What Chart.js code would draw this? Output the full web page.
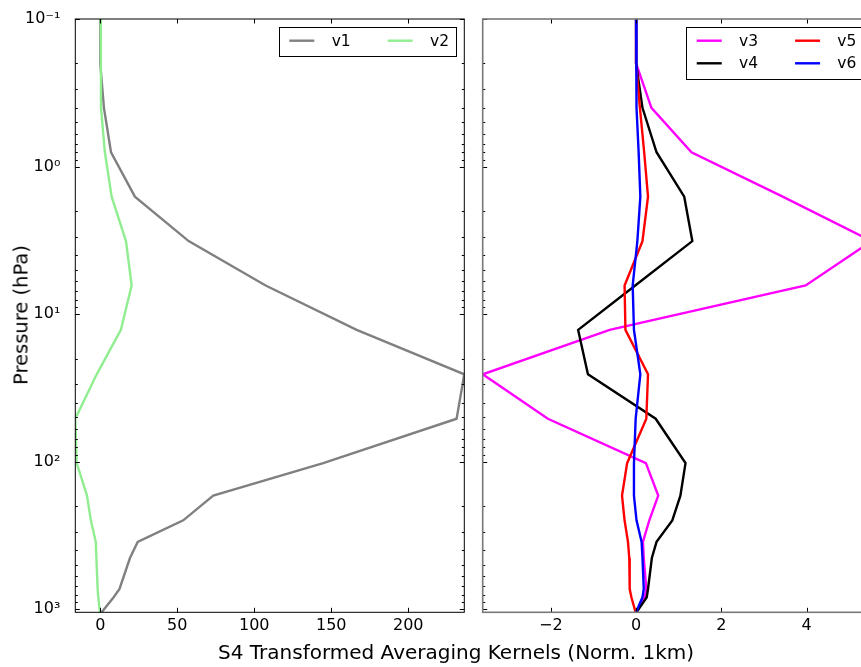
<!DOCTYPE html>
<html>
<head>
    <title>S4 Transformed Averaging Kernels</title>
    <style>
        body { margin: 0; width: 861px; height: 667px; overflow: hidden; background: #fff; position: relative; font-family: 'DejaVu Sans', sans-serif; }
        canvas { position: absolute; top: 0; }
        .ytitle { position: absolute; left: 21px; top: 315px; transform: translate(-50%, -50%) rotate(-90deg); font-size: 19.5px; white-space: nowrap; color: #000; }
        .xtitle { position: absolute; left: 456px; top: 652px; transform: translate(-50%, -50%); font-size: 20px; white-space: nowrap; color: #000; }
    </style>
</head>
<body>
    <canvas id="left" width="470" height="667" style="left:0"></canvas>
    <canvas id="right" width="430" height="667" style="left:470px"></canvas>
    <div class="ytitle">Pressure (hPa)</div>
    <div class="xtitle">S4 Transformed Averaging Kernels (Norm. 1km)</div>

    <script src="https://cdn.jsdelivr.net/npm/chart.js"></script>
    <script>
        // pressure levels (hPa)
        var PRESSURE = [0.1, 0.2, 0.4, 0.8, 1.6, 3.2, 6.4, 12.8, 25.6, 51.2, 102.4, 170, 250, 350, 450, 730, 830, 1050];

        // left panel
        var V1 = [0, 0, 2.4, 7, 22.5, 57.4, 107.4, 166.5, 236.4, 231.4, 144.8, 73.4, 53.9, 24.3, 19.3, 12.5, 8.7, 0.9];
        var V2 = [0.3, 0.4, 0.5, 3.0, 7.4, 16.7, 20.4, 13.4, -2.3, -16.2, -15.3, -8.6, -6.1, -2.9, -2.5, -1.7, -1.3, -0.2];

        // right panel
        var V3 = [0, 0, 0.36, 1.30, 3.44, 5.53, 3.98, -0.62, -3.6, -2.07, 0.23, 0.52, 0.31, 0.16, 0.18, 0.24, 0.20, 0.0];
        var V4 = [0, 0, 0.15, 0.48, 1.13, 1.32, -0.02, -1.36, -1.13, 0.46, 1.16, 1.04, 0.85, 0.48, 0.37, 0.28, 0.25, 0.01];
        var V5 = [0, 0, 0.09, 0.19, 0.28, 0.15, -0.27, -0.25, 0.28, 0.24, -0.21, -0.33, -0.27, -0.19, -0.16, -0.15, -0.11, -0.01];
        var V6 = [0, 0, 0.02, 0.06, 0.10, 0.03, -0.08, -0.05, 0.10, -0.01, -0.05, -0.05, 0.01, 0.13, 0.15, 0.18, 0.15, 0.0];

        var Y_TICKS = [0.1, 1, 10, 100, 1000];
        var Y_TICK_LABELS = ['10\u207B\u00B9', '10\u2070', '10\u00B9', '10\u00B2', '10\u00B3'];
        var X1_TICKS = [0, 50, 100, 150, 200];
        var X2_TICKS = [-2, 0, 2, 4];

        Chart.defaults.font.family = "'DejaVu Sans', sans-serif";
        Chart.defaults.color = '#000';

        function series(vals) {
            return vals.map(function (v, i) { return { x: v, y: PRESSURE[i] }; });
        }

        // spines + inward ticks like matplotlib classic
        var frameTicks = {
            id: 'frameTicks',
            afterDatasetsDraw: function (chart, args, opts) {
                var ctx = chart.ctx, a = chart.chartArea, x = chart.scales.x, y = chart.scales.y;
                ctx.save();
                ctx.strokeStyle = '#000';
                ctx.lineWidth = 1;
                ctx.beginPath();
                opts.xTicks.forEach(function (v) {
                    var px = Math.round(x.getPixelForValue(v)) + 0.5;
                    ctx.moveTo(px, a.bottom); ctx.lineTo(px, a.bottom - 4.5);
                    ctx.moveTo(px, a.top); ctx.lineTo(px, a.top + 4.5);
                });
                for (var d = -1; d <= 3; d++) {
                    for (var m = 1; m <= 9; m++) {
                        var v = m * Math.pow(10, d);
                        if (v < y.min || v > y.max) continue;
                        var py = Math.round(y.getPixelForValue(v)) + 0.5;
                        var len = m === 1 ? 4.5 : 2.5;
                        ctx.moveTo(a.left, py); ctx.lineTo(a.left + len, py);
                        ctx.moveTo(a.right, py); ctx.lineTo(a.right - len, py);
                    }
                }
                ctx.stroke();
                ctx.strokeStyle = opts.color;
                ctx.lineWidth = opts.width;
                ctx.strokeRect(a.left, a.top, a.right - a.left, a.bottom - a.top);
                ctx.restore();
            }
        };

        // boxed legend in the upper right, columns filled top to bottom
        var boxLegend = {
            id: 'boxLegend',
            afterDraw: function (chart, args, opts) {
                var ctx = chart.ctx, a = chart.chartArea, ds = chart.data.datasets;
                var ncol = opts.ncol, nrow = Math.ceil(ds.length / ncol);
                ctx.save();
                ctx.font = '15.5px "DejaVu Sans"';
                var colW = [];
                for (var c = 0; c < ncol; c++) {
                    var w = 0;
                    for (var r = 0; r < nrow; r++) {
                        var k = c * nrow + r;
                        if (k < ds.length) w = Math.max(w, ctx.measureText(ds[k].label).width);
                    }
                    colW.push(w);
                }
                var padL = 10.7, lineLen = 25, gap = 17.3, colGap = 37, padR = 7;
                var boxW = padL + padR + (ncol - 1) * colGap;
                colW.forEach(function (w) { boxW += lineLen + gap + w; });
                var rowH = 22.6, padT = 13.4, padB = 16;
                var boxH = padT + (nrow - 1) * rowH + padB;
                var bx = a.right - 8.3 - boxW, by = a.top + 8.3;
                ctx.fillStyle = '#fff';
                ctx.fillRect(bx, by, boxW, boxH);
                ctx.strokeStyle = '#000';
                ctx.lineWidth = 1;
                ctx.strokeRect(Math.round(bx) + 0.5, Math.round(by) + 0.5, Math.round(boxW), Math.round(boxH));
                var cx = bx + padL;
                for (c = 0; c < ncol; c++) {
                    for (r = 0; r < nrow; r++) {
                        k = c * nrow + r;
                        if (k >= ds.length) continue;
                        var cy = by + padT + r * rowH;
                        ctx.strokeStyle = ds[k].borderColor;
                        ctx.lineWidth = ds[k].borderWidth;
                        ctx.beginPath();
                        ctx.moveTo(cx, cy); ctx.lineTo(cx + lineLen, cy);
                        ctx.stroke();
                        ctx.fillStyle = '#000';
                        ctx.textBaseline = 'middle';
                        ctx.fillText(ds[k].label, cx + lineLen + gap, cy + 1);
                    }
                    cx += lineLen + gap + colW[c] + colGap;
                }
                ctx.restore();
            }
        };

        function makeChart(id, datasets, xMin, xMax, xTicks, yWidth, padRight, showY, frameColor, ncol) {
            return new Chart(document.getElementById(id).getContext('2d'), {
                type: 'scatter',
                data: { datasets: datasets },
                options: {
                    responsive: false,
                    animation: false,
                    layout: { padding: { top: 19, right: padRight, left: 0, bottom: 0 } },
                    elements: { point: { radius: 0 }, line: { tension: 0 } },
                    scales: {
                        x: {
                            type: 'linear',
                            min: xMin, max: xMax,
                            grid: { display: false },
                            border: { display: false },
                            afterBuildTicks: function (s) { s.ticks = xTicks.map(function (v) { return { value: v }; }); },
                            afterFit: function (s) { s.height = 54.7; },
                            ticks: {
                                padding: -4,
                                font: { size: 16 },
                                callback: function (v) { return String(v).replace('-', '\u2212'); }
                            }
                        },
                        y: {
                            type: 'logarithmic',
                            reverse: true,
                            min: PRESSURE[0], max: PRESSURE[PRESSURE.length - 1],
                            grid: { display: false },
                            border: { display: false },
                            afterBuildTicks: function (s) { s.ticks = Y_TICKS.map(function (v) { return { value: v }; }); },
                            afterFit: function (s) { s.width = yWidth; },
                            ticks: {
                                display: showY,
                                padding: 7,
                                font: { size: 16 },
                                callback: function (v) { return Y_TICK_LABELS[Y_TICKS.indexOf(v)]; }
                            }
                        }
                    },
                    plugins: {
                        legend: { display: false },
                        tooltip: { enabled: false },
                        frameTicks: { xTicks: xTicks, color: frameColor, width: frameColor === '#000' ? 1 : 1.6 },
                        boxLegend: { ncol: ncol }
                    }
                },
                plugins: [frameTicks, boxLegend]
            });
        }

        function line(label, vals, color, order) {
            return { label: label, data: series(vals), showLine: true, borderColor: color, backgroundColor: color, borderWidth: 2.4, order: order };
        }

        makeChart('left', [
            line('v1', V1, '#808080', 2),
            line('v2', V2, '#90ee90', 1)
        ], -16.2, 236.4, X1_TICKS, 75.3, 5.7, true, '#000', 2);

        makeChart('right', [
            line('v3', V3, '#ff00ff', 4),
            line('v4', V4, '#000000', 3),
            line('v5', V5, '#ff0000', 2),
            line('v6', V6, '#0000ff', 1)
        ], -3.6, 5.53, X2_TICKS, 12.7, 430 - 401.7, false, '#777', 2);
    </script>
</body>
</html>
